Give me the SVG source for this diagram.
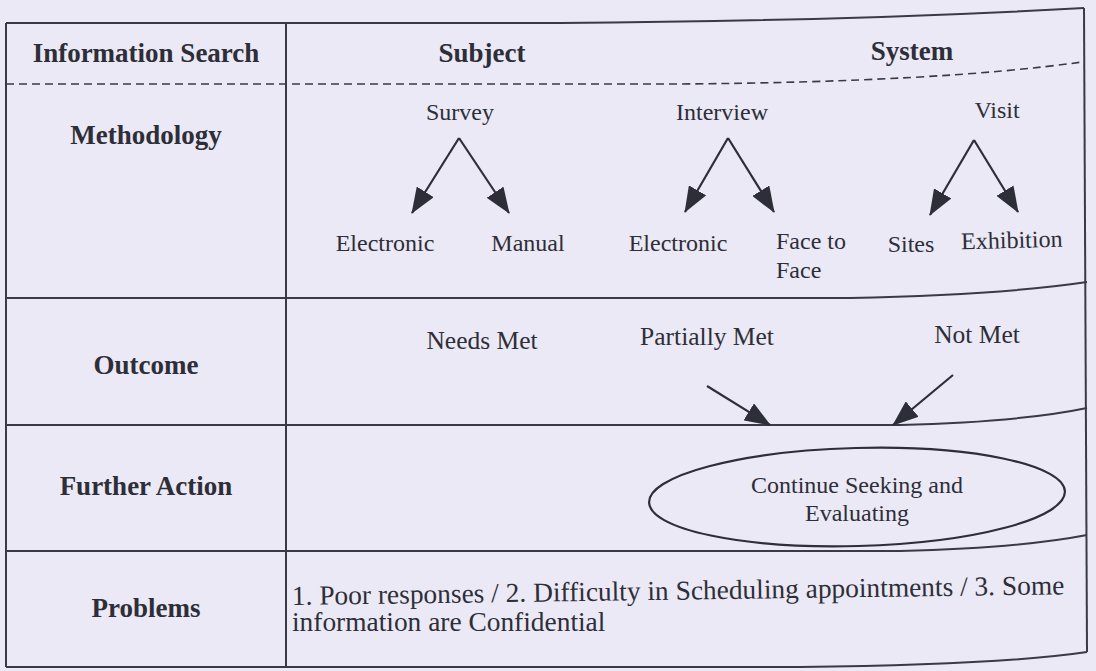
<svg xmlns="http://www.w3.org/2000/svg" width="1096" height="671" viewBox="0 0 1096 671">
<style>
.bg{fill:#eae9f5}
.frame{fill:none;stroke:#3a3a46;stroke-width:2}
.dash{fill:none;stroke:#3a3a46;stroke-width:1.6;stroke-dasharray:8 5}
.hd{font-family:"Liberation Serif","Times New Roman",serif;font-weight:bold;font-size:27px;fill:#2e2e38;text-anchor:middle}
.tx{font-family:"Liberation Serif","Times New Roman",serif;font-size:24px;fill:#2e2e38}
.oc{font-size:25.5px}
.pr{font-size:27.4px}
.mid{text-anchor:middle}
.arr{fill:none;stroke:#2e2e38;stroke-width:2.2;marker-end:url(#ah)}
.ell{fill:none;stroke:#2e2e38;stroke-width:2.2}
</style>
<defs>
<marker id="ah" viewBox="0 0 26 20" refX="25" refY="10" markerWidth="26" markerHeight="20" markerUnits="userSpaceOnUse" orient="auto">
<path d="M0,0 L26,10 L0,20 z" fill="#2e2e38"/>
</marker>
</defs>
<rect class="bg" x="0" y="0" width="1096" height="671"/>

<g id="table">
<path class="frame" d="M6,23 L560,23 Q850,21 1084,8"/>
<path class="frame" d="M1084,8 L1087,652"/>
<path class="frame" d="M6,23 L6,667"/>
<path class="frame" d="M6,667 L800,667 Q1000,665 1087,652"/>
<path class="frame" d="M286,23 L286,667"/>
<path class="dash" d="M6,84 L680,84 Q940,82 1082,62"/>
<path class="frame" d="M6,298 L850,298 Q1000,295 1087,282"/>
<path class="frame" d="M6,425 L900,425 Q1020,422 1087,408"/>
<path class="frame" d="M6,551 L900,551 Q1020,548 1087,535"/>
</g>

<g id="row-labels">
<text class="hd" x="146" y="62">Information Search</text>
<text class="hd" x="146" y="144">Methodology</text>
<text class="hd" x="146" y="374">Outcome</text>
<text class="hd" x="146" y="495">Further Action</text>
<text class="hd" x="146" y="617">Problems</text>
</g>

<g id="subject">
<text class="hd" x="482" y="62">Subject</text>
</g>
<g id="system">
<text class="hd" x="912" y="60">System</text>
</g>

<g id="survey"><text class="tx mid" x="460" y="120">Survey</text></g>
<g id="interview"><text class="tx mid" x="722" y="120">Interview</text></g>
<g id="visit"><text class="tx mid" x="997" y="118">Visit</text></g>

<g id="survey-electronic"><text class="tx mid" x="385" y="251">Electronic</text></g>
<g id="survey-manual"><text class="tx mid" x="528" y="251">Manual</text></g>
<g id="interview-electronic"><text class="tx mid" x="678" y="251">Electronic</text></g>
<g id="face-to-face"><text class="tx" x="776" y="249">Face to</text><text class="tx" x="776" y="278">Face</text></g>
<g id="sites"><text class="tx mid" x="911" y="252">Sites</text></g>
<g id="exhibition"><text class="tx mid" x="1012" y="248" transform="rotate(-1.5 1012 248)">Exhibition</text></g>

<g id="needs-met"><text class="tx oc mid" x="482" y="349">Needs Met</text></g>
<g id="partially-met"><text class="tx oc mid" x="707" y="345">Partially Met</text></g>
<g id="not-met"><text class="tx oc mid" x="977" y="343">Not Met</text></g>

<g id="continue">
<ellipse class="ell" cx="857" cy="497" rx="208" ry="49" transform="rotate(-1.5 857 497)"/>
<text class="tx mid" x="857" y="493">Continue Seeking and</text>
<text class="tx mid" x="857" y="521">Evaluating</text>
</g>

<g id="problems-text">
<text class="tx pr" x="292" y="605" transform="rotate(-0.8 292 605)">1. Poor responses / 2. Difficulty in Scheduling appointments / 3. Some</text>
<text class="tx pr" x="292" y="631">information are Confidential</text>
</g>

<g id="connectors">
<path class="arr" d="M459,138 L412,213"/>
<path class="arr" d="M459,138 L509,213"/>
<path class="arr" d="M728,138 L685,212"/>
<path class="arr" d="M728,138 L774,212"/>
<path class="arr" d="M974,140 L930,215"/>
<path class="arr" d="M974,140 L1018,212"/>
<path class="arr" d="M707,386 L770,425"/>
<path class="arr" d="M953,375 L893,425"/>
</g>
</svg>
